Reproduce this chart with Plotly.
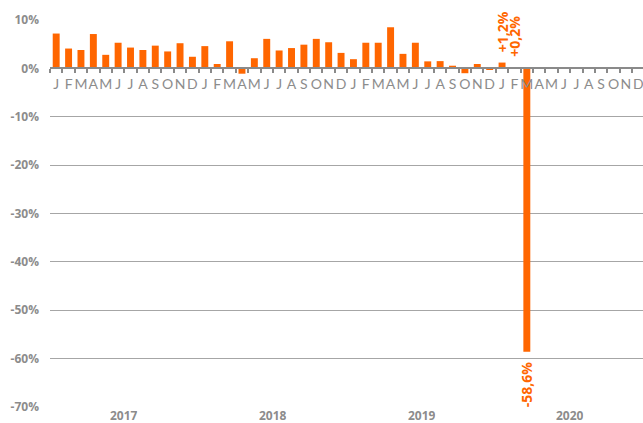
import plotly.graph_objects as go

years = ["2017", "2018", "2019", "2020"]
month_letters = ["J", "F", "M", "A", "M", "J", "J", "A", "S", "O", "N", "D"]

values_2017 = [7.2, 4.1, 3.8, 7.1, 2.8, 5.3, 4.3, 3.8, 4.7, 3.5, 5.2, 2.4]
values_2018 = [4.6, 0.9, 5.6, -1.1, 2.1, 6.1, 3.7, 4.2, 4.9, 6.1, 5.4, 3.2]
values_2019 = [1.9, 5.3, 5.3, 8.5, 3.0, 5.3, 1.45, 1.5, 0.55, -1.0, 0.9, -0.2]
values_2020 = [1.2, 0.2, -58.6, None, None, None, None, None, None, None, None, None]

labels_2020 = ["+1,2%", "+0,2%", "-58,6%"]

y_tickvals = [10, 0, -10, -20, -30, -40, -50, -60, -70]
y_ticktext = ["10%", "0%", "-10%", "-20%", "-30%", "-40%", "-50%", "-60%", "-70%"]

values = values_2017 + values_2018 + values_2019 + values_2020
xs = list(range(len(values)))
ticktext = month_letters * len(years)

NB = "\u00a0"
texts = [""] * len(values)
for i, lab in enumerate(labels_2020):
    idx = 36 + i
    v = values[idx]
    texts[idx] = (NB * 2 + lab) if v >= 0 else (lab + NB * 2)

ORANGE = "#FF6600"
GRAY = "#8c8c8c"

fig = go.Figure()
fig.add_trace(go.Bar(
    x=xs, y=values, width=0.56,
    marker=dict(color=ORANGE, line=dict(width=0)),
    text=texts, textposition="outside", textangle=-90,
    constraintext="none", cliponaxis=False,
    textfont=dict(family="Open Sans", size=14, color=ORANGE, weight="bold"),
    hoverinfo="skip",
))

annotations = []
for i, yr in enumerate(years):
    annotations.append(dict(
        x=12 * i + 5.5, y=0, xref="x", yref="paper",
        text="<b>%s</b>" % yr, showarrow=False, yanchor="top", yshift=-1,
        height=12, borderpad=0, valign="middle",
        font=dict(family="Open Sans", size=12, color=GRAY),
    ))

fig.update_layout(
    width=643, height=423,
    margin=dict(l=50, r=0, t=20, b=16),
    paper_bgcolor="white", plot_bgcolor="white",
    showlegend=False,
    annotations=annotations,
    xaxis=dict(
        range=[-0.5, 47.38], anchor="free", position=0.875,
        tickmode="array", tickvals=xs, ticktext=ticktext, tickangle=0,
        ticks="", showgrid=False, zeroline=False,
        showline=True, linecolor="#8a8a8a", linewidth=2,
        ticklabelstandoff=3, ticklabeloverflow="allow",
        tickfont=dict(family="Lato", size=14, color="#8c8c8c"),
        minor=dict(ticks="outside", tick0=0.5, dtick=1, ticklen=4,
                   tickcolor="#8a8a8a", tickwidth=2, showgrid=False),
        fixedrange=True,
    ),
    yaxis=dict(
        range=[-70, 10], tickmode="array", tickvals=y_tickvals, ticktext=y_ticktext,
        showgrid=True, gridcolor="#a6a6a6", gridwidth=1,
        zeroline=True, zerolinecolor="#8a8a8a", zerolinewidth=2,
        ticks="", ticklabelstandoff=10,
        tickfont=dict(family="Open Sans", size=12, color=GRAY, weight="bold"),
        showline=False, fixedrange=True,
    ),
)

fig.write_html("out.html", config={"displayModeBar": False},
               post_script="document.body.style.margin='0';document.body.style.overflow='hidden';")
